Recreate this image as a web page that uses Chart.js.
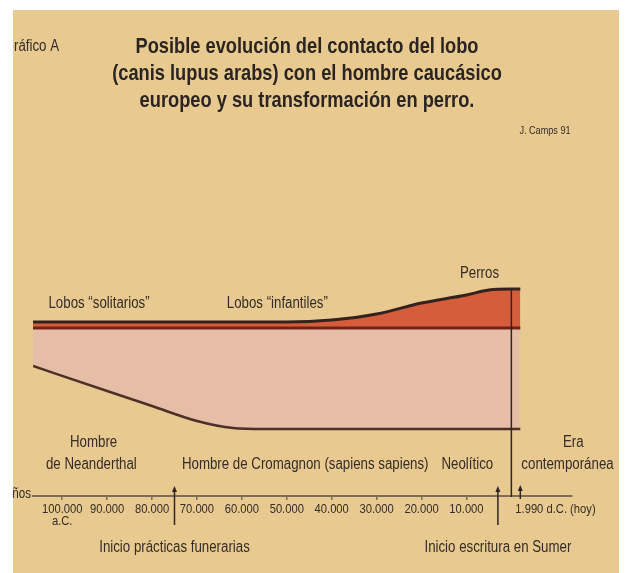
<!DOCTYPE html>
<html lang="es">
<head>
<meta charset="utf-8">
<title>Evolución del contacto del lobo con el hombre</title>
<script src="https://cdn.jsdelivr.net/npm/chart.js@4/dist/chart.umd.min.js"></script>
<style>
  html, body { margin: 0; padding: 0; background: #ffffff; }
  #marco {
    position: absolute; left: 13px; top: 10px;
    width: 606px; height: 563px;
    background: #e8c98f;
  }
</style>
</head>
<body>
<div id="marco"><canvas id="grafico"></canvas></div>
<script>
// Años (negativos = a.C.) donde se leen los niveles de las tres curvas
const anios = [-106500, -90000, -80000, -70000, -62000, -55000, -50000, -40000, -30000, -20000, -10000, -5000, 0, 1990];
// Borde superior: perros (se separa de los lobos a partir de 50.000 a.C.)
const nivelPerros = [69.6, 69.6, 69.6, 69.6, 69.6, 69.6, 69.6, 70.4, 72.8, 77.2, 80.4, 82.4, 82.8, 82.8];
// Línea de los lobos
const nivelLobos = [67.2, 67.2, 67.2, 67.2, 67.2, 67.2, 67.2, 67.2, 67.2, 67.2, 67.2, 67.2, 67.2, 67.2];
// Borde inferior: contacto con el hombre
const nivelHombre = [52, 42, 36, 30, 27.2, 26.8, 26.8, 26.8, 26.8, 26.8, 26.8, 26.8, 26.8, 26.8];

// Eje de tiempo
const ticksAnios = [-100000, -90000, -80000, -70000, -60000, -50000, -40000, -30000, -20000, -10000];
const ticksTextos = ['100.000', '90.000', '80.000', '70.000', '60.000', '50.000', '40.000', '30.000', '20.000', '10.000'];
const anioHoy = 1990;

// Hitos marcados con flecha
const hitosAnios = [-75000, -3000];
const hitosTextos = ['Inicio prácticas funerarias', 'Inicio escritura en Sumer'];

const titulo = ['Posible evolución del contacto del lobo',
                '(canis lupus arabs) con el hombre caucásico',
                'europeo y su transformación en perro.'];

const FUENTE = "'Liberation Sans', Arial, sans-serif";
const ESTRECHO = 0.83;   // la lámina usa una Helvética condensada
const TINTA = '#342d29';

// texto comprimido en horizontal
function texto(ctx, t, px, py, size, align, weight, color) {
    ctx.save();
    ctx.font = (weight || 'normal') + ' ' + size + 'px ' + FUENTE;
    ctx.fillStyle = color || TINTA;
    ctx.textAlign = 'left';
    ctx.textBaseline = 'middle';
    const w = ctx.measureText(t).width * ESTRECHO;
    let x0 = px;
    if (!align || align === 'center') x0 = px - w / 2;
    else if (align === 'right') x0 = px - w;
    ctx.translate(x0, py);
    ctx.scale(ESTRECHO, 1);
    ctx.fillText(t, 0, 0);
    ctx.restore();
}

function flecha(ctx, px, y1, y2) {
    ctx.strokeStyle = '#2e2622';
    ctx.fillStyle = '#2e2622';
    ctx.lineWidth = 1.5;
    ctx.beginPath();
    ctx.moveTo(px, y1 + 3);
    ctx.lineTo(px, y2);
    ctx.stroke();
    ctx.beginPath();
    ctx.moveTo(px, y1);
    ctx.lineTo(px - 2.5, y1 + 6);
    ctx.lineTo(px + 2.5, y1 + 6);
    ctx.closePath();
    ctx.fill();
}

const anotaciones = {
    id: 'anotaciones',
    afterDraw(chart) {
        const ctx = chart.ctx;
        const x = chart.scales.x;
        const y = chart.scales.y;
        const eje = chart.chartArea.bottom;
        ctx.save();

        // título
        titulo.forEach((t, i) => texto(ctx, t, 294, 37 + i * 27, 22, 'center', 'bold', '#2a2523'));

        // línea vertical del año 0
        const x0 = x.getPixelForValue(0);
        ctx.strokeStyle = '#2e2622';
        ctx.lineWidth = 1.5;
        ctx.beginPath();
        ctx.moveTo(x0, y.getPixelForValue(nivelPerros[anios.indexOf(0)]));
        ctx.lineTo(x0, eje + 1);
        ctx.stroke();

        // flechas de los hitos
        hitosAnios.forEach((a, i) => {
            const px = x.getPixelForValue(a);
            flecha(ctx, px, eje - 10, eje + 29);
            texto(ctx, hitosTextos[i], px, eje + 52, 16);
        });
        const xHoy = x.getPixelForValue(anioHoy);
        flecha(ctx, xHoy, eje - 11, eje + 3);

        // etiquetas del eje
        ticksAnios.forEach((a, i) => {
            texto(ctx, ticksTextos[i], x.getPixelForValue(a), eje + 13, 13.5);
        });
        texto(ctx, 'a.C.', x.getPixelForValue(ticksAnios[0]), eje + 25, 13.5);
        texto(ctx, '1.990 d.C. (hoy)', xHoy - 5, eje + 13, 13.5, 'left');
        texto(ctx, 'Años', x.left - 2, eje - 2, 14, 'right');

        // periodos humanos
        texto(ctx, 'Hombre', x.getPixelForValue(-93000), eje - 53, 16);
        texto(ctx, 'de Neanderthal', x.getPixelForValue(-93500), eje - 31, 16);
        texto(ctx, 'Hombre de Cromagnon (sapiens sapiens)', x.getPixelForValue(-45900), eje - 31, 16);
        texto(ctx, 'Neolítico', x.getPixelForValue(-9800), eje - 31, 16);
        texto(ctx, 'Era', x.getPixelForValue(13800), eje - 53, 16);
        texto(ctx, 'contemporánea', x.getPixelForValue(12500), eje - 31, 16);

        // fases del lobo
        texto(ctx, 'Lobos “solitarios”', x.getPixelForValue(-91800), y.getPixelForValue(76.8), 16);
        texto(ctx, 'Lobos “infantiles”', x.getPixelForValue(-52100), y.getPixelForValue(76.8), 16);
        texto(ctx, 'Perros', x.getPixelForValue(-7100), y.getPixelForValue(88.8), 16);

        // rótulos de la lámina
        texto(ctx, 'Gráfico A', 46, 37, 16, 'right');
        texto(ctx, 'J. Camps 91', 532, 121, 11);
        ctx.restore();
    }
};

const ctx = document.getElementById('grafico').getContext('2d');
const grafico = new Chart(ctx, {
    type: 'line',
    data: {
        labels: anios,
        datasets: [{
            label: 'Perros',
            data: anios.map((a, i) => ({ x: a, y: nivelPerros[i] })),
            borderColor: '#33221d',
            borderWidth: 3,
            backgroundColor: '#d65d3b',
            fill: '+1',
            pointRadius: 0,
            cubicInterpolationMode: 'monotone'
        }, {
            label: 'Lobos',
            data: anios.map((a, i) => ({ x: a, y: nivelLobos[i] })),
            borderColor: '#6e2417',
            borderWidth: 3,
            backgroundColor: '#e6bea8',
            fill: '+1',
            pointRadius: 0
        }, {
            label: 'Hombre',
            data: anios.map((a, i) => ({ x: a, y: nivelHombre[i] })),
            borderColor: '#4d3128',
            borderWidth: 2.5,
            fill: false,
            pointRadius: 0,
            cubicInterpolationMode: 'monotone'
        }]
    },
    options: {
        responsive: true,
        maintainAspectRatio: false,
        animation: false,
        layout: { padding: { left: 20, right: 47, top: 236, bottom: 73 } },
        plugins: {
            legend: { display: false },
            tooltip: { enabled: false },
            title: { display: false },
            filler: { drawTime: 'beforeDatasetsDraw' }
        },
        scales: {
            x: {
                type: 'linear',
                min: -106500,
                max: 13500,
                afterBuildTicks: (scale) => {
                    scale.ticks = ticksAnios.map(v => ({ value: v }));
                },
                ticks: { display: false },
                grid: {
                    drawOnChartArea: false,
                    drawTicks: true,
                    tickLength: 4,
                    color: '#7d6d5a',
                    lineWidth: 1.5
                },
                border: { display: true, color: '#7d6d5a', width: 2 }
            },
            y: {
                display: false,
                min: 0,
                max: 100
            }
        }
    },
    plugins: [anotaciones]
});
</script>
</body>
</html>
